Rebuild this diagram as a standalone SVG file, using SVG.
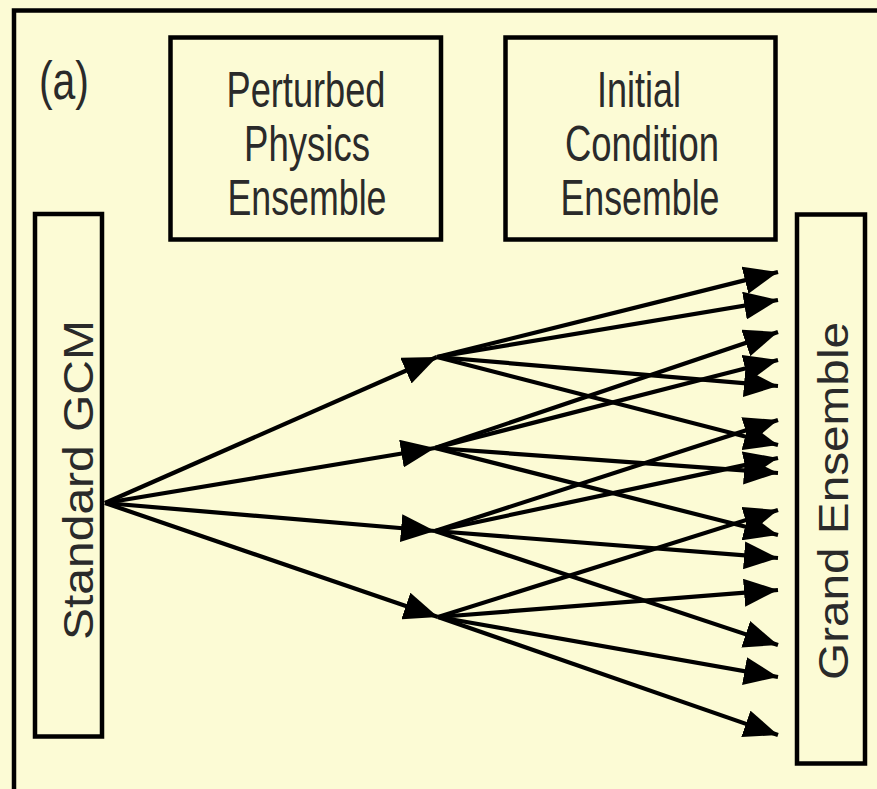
<svg xmlns="http://www.w3.org/2000/svg" width="877" height="789" viewBox="0 0 877 789">
<defs>
<marker id="ah" markerUnits="userSpaceOnUse" markerWidth="34" markerHeight="28" refX="34" refY="14" orient="auto" viewBox="0 0 34 28">
<path d="M0,0 L34,14 L0,28 z" fill="#000"/>
</marker>
</defs>
<style>
.box{fill:none;stroke:#000;stroke-width:4.5}
.lbl{font-family:"Liberation Sans",Arial,sans-serif;fill:#2a2a2a;text-anchor:middle}
.h{font-size:50px}
.v{font-size:42px}
.c line{stroke:#000;stroke-width:4.2;marker-end:url(#ah)}
</style>
<rect x="0" y="0" width="877" height="789" fill="#FCFBD5"/>
<path d="M14,800 V10.5 H890" fill="none" stroke="#000" stroke-width="4.5"/>
<text x="39" y="99" font-family="Liberation Sans,Arial,sans-serif" font-size="54" fill="#2a2a2a" textLength="50" lengthAdjust="spacingAndGlyphs">(a)</text>
<g id="perturbed">
<rect class="box" x="170.5" y="37.5" width="270.5" height="202"/>
<text class="lbl h" x="306" y="107" textLength="159" lengthAdjust="spacingAndGlyphs">Perturbed</text>
<text class="lbl h" x="307" y="161" textLength="126" lengthAdjust="spacingAndGlyphs">Physics</text>
<text class="lbl h" x="307" y="215" textLength="159" lengthAdjust="spacingAndGlyphs">Ensemble</text>
</g>
<g id="initial">
<rect class="box" x="505.5" y="37.5" width="270" height="202"/>
<text class="lbl h" x="639" y="107" textLength="84" lengthAdjust="spacingAndGlyphs">Initial</text>
<text class="lbl h" x="642" y="161" textLength="154" lengthAdjust="spacingAndGlyphs">Condition</text>
<text class="lbl h" x="640" y="215" textLength="159" lengthAdjust="spacingAndGlyphs">Ensemble</text>
</g>
<g id="gcm">
<rect class="box" x="35" y="214" width="67" height="522.5"/>
<text class="lbl v" transform="translate(93,480) rotate(-90)" textLength="320" lengthAdjust="spacingAndGlyphs">Standard GCM</text>
</g>
<g id="grand">
<rect class="box" x="797" y="214.5" width="68" height="549"/>
<text class="lbl v" transform="translate(848,501) rotate(-90)" textLength="358" lengthAdjust="spacingAndGlyphs">Grand Ensemble</text>
</g>
<g id="connectors" class="c">
<line x1="105" y1="503" x2="437" y2="357"/>
<line x1="105" y1="503" x2="435" y2="448"/>
<line x1="105" y1="503" x2="435" y2="531"/>
<line x1="105" y1="503" x2="438" y2="617"/>
<line x1="437" y1="357" x2="778" y2="272"/>
<line x1="437" y1="357" x2="778" y2="300"/>
<line x1="437" y1="357" x2="778" y2="386"/>
<line x1="437" y1="357" x2="778" y2="445"/>
<line x1="435" y1="448" x2="778" y2="332"/>
<line x1="435" y1="448" x2="778" y2="360"/>
<line x1="435" y1="448" x2="778" y2="473"/>
<line x1="435" y1="448" x2="778" y2="535"/>
<line x1="435" y1="531" x2="778" y2="420"/>
<line x1="435" y1="531" x2="778" y2="458"/>
<line x1="435" y1="531" x2="778" y2="558"/>
<line x1="435" y1="531" x2="778" y2="645"/>
<line x1="438" y1="617" x2="778" y2="510"/>
<line x1="438" y1="617" x2="778" y2="590"/>
<line x1="438" y1="617" x2="778" y2="677"/>
<line x1="438" y1="617" x2="778" y2="735"/>
</g>
</svg>
